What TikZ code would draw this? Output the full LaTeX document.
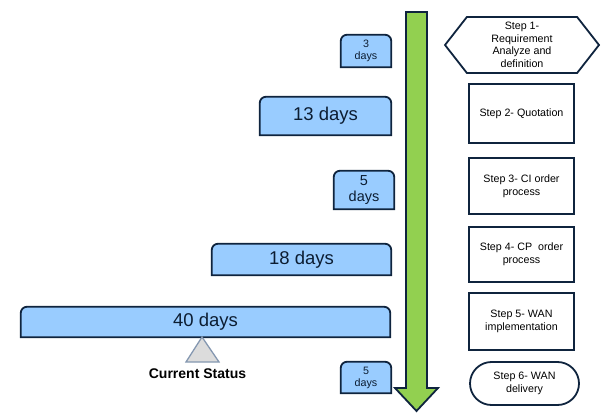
\documentclass[tikz,border=0pt]{standalone}
\usepackage{fontspec}
\setmainfont{Liberation Sans}
\usetikzlibrary{shapes.misc,shapes.symbols,backgrounds}

\definecolor{navy}{HTML}{0F243E}
\definecolor{dayblue}{HTML}{99CCFF}
\definecolor{arrowgreen}{HTML}{92D050}
\definecolor{markgrey}{HTML}{DCDCDC}
\definecolor{markline}{HTML}{8497B0}

\begin{document}
\begin{tikzpicture} [
	x = 1pt, y = -1pt,
	stepbox/.style = {draw=navy, line width=1.8pt, fill=white, align=center, inner sep=1pt,
		minimum width=105pt, font=\fontsize{10.7}{12.6}\selectfont},
	daybox/.style = {inner sep=0pt, align=center, text=navy!80!black, font=\fontsize{18.5}{20}\selectfont},
	smallday/.style = {daybox, font=\fontsize{10.7}{12}\selectfont},
	dayline/.style = {draw=navy, line width=1.8pt, fill=dayblue},
	greenarrow/.style = {draw=navy, line width=1.8pt, fill=arrowgreen},
	marker/.style = {draw=markline, line width=1.3pt, fill=markgrey}
]
\path [use as bounding box] (0,0) rectangle (608,417);

% the arrow of time
\draw [greenarrow] (406,12) -- (427,12) -- (427,388) -- (438,388) -- (416.5,411)
	-- (395,388) -- (406,388) -- cycle;

% steps
\node [stepbox, shape=signal, signal to=east and west, signal pointer angle=104,
	minimum width=154pt, minimum height=56pt] (s1) at (522,45)
	{Step 1-\\Requirement\\Analyze and\\definition};
\node [stepbox, minimum height=59pt] (s2) at (521.5,113.5) {Step 2- Quotation};
\node [stepbox, minimum height=56pt] (s3) at (521.5,186) {Step 3- CI order\\process};
\node [stepbox, minimum height=55pt] (s4) at (521.5,254.5) {Step 4- CP\ \ order\\process};
\node [stepbox, minimum height=57pt] (s5) at (521.5,321.5) {Step 5- WAN\\implementation};
\node [stepbox, shape=rounded rectangle, minimum width=111pt, minimum height=43pt] (s6)
	at (524.5,383.5) {Step 6- WAN\\delivery};

% durations
\node [smallday, minimum width=50pt, minimum height=32pt] (d1) at (366,51) {3\\days};
\node [daybox, minimum width=131pt, minimum height=38pt] (d2) at (325.5,116) {13 days};
\node [daybox, font=\fontsize{14.5}{16}\selectfont, minimum width=60pt, minimum height=38pt]
	(d3) at (364,190) {5\\days};
\node [daybox, minimum width=179pt, minimum height=31pt] (d4) at (301.5,259.5) {18 days};
\node [daybox, minimum width=369pt, minimum height=30pt] (d5) at (205.5,322) {40 days};
\node [smallday, minimum width=50pt, minimum height=31pt] (d6) at (366,377.5) {5\\days};
\begin{scope}[on background layer]
	\foreach \d in {d1,d2,d3,d4,d5,d6}
		\draw [dayline] (\d.south west) [rounded corners=6pt] -- (\d.north west)
			-- (\d.north east) [sharp corners] -- (\d.south east) -- cycle;
\end{scope}

% where we are
\draw [marker] (202,337) -- (219,362) -- (186,362) -- cycle;
\node [font=\fontsize{14}{16}\selectfont\bfseries] (cs) at (197.5,374) {Current Status};
\end{tikzpicture}
\end{document}
